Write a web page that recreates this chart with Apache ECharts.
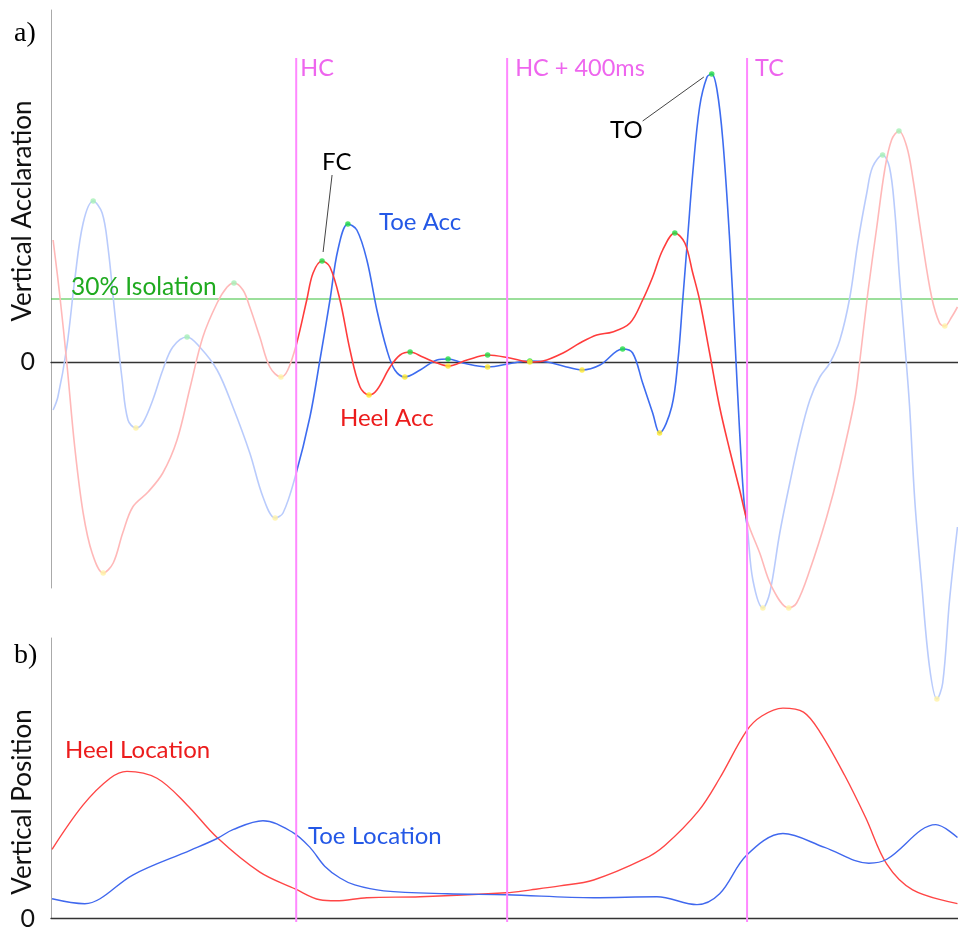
<!DOCTYPE html>
<html><head><meta charset="utf-8">
<script src="https://cdn.jsdelivr.net/npm/echarts@6/dist/echarts.min.js"></script>
<style>html,body{margin:0;padding:0;background:#fff}#c{width:958px;height:931px}</style>
</head><body><div id="c"></div>
<script>
// time in ms, accelerations / positions in arbitrary units
const toeAcc = [[4,-24],[13,-17.5],[30,7.5],[45,41],[61,69.5],[80,80.5],[97,74.5],[108,57.5],[121,24.5],[135,-9],[146,-29],[161,-33],[174,-30.5],[193,-19],[212,-4],[231,7.5],[258,12.5],[282,7.5],[315,-4],[345,-22.5],[377,-45.5],[402,-67.5],[425,-78],[440,-75.5],[463,-57.5],[491,-27.5],[510,1],[529,31],[544,56],[563,69],[580,66],[599,51],[618,26],[637,6],[652,-4],[671,-7.5],[700,-4],[732,1],[753,1.5],[781,-0.5],[828,-2.5],[876,-0.5],[908,0.5],[940,0],[971,-2],[1007,-4],[1041,-1.5],[1084,6.5],[1103,4.5],[1122,-10.5],[1141,-25.5],[1154,-35.5],[1177,-22.5],[1189,1],[1198,31],[1208,64.5],[1217,94.5],[1230,127.5],[1244,142.5],[1253,144],[1263,136],[1274,111],[1287,61],[1297,11],[1306,-35.5],[1314,-69],[1321,-84],[1331,-109],[1350,-123],[1363,-115.5],[1382,-85.5],[1401,-60.5],[1420,-37.5],[1439,-19],[1458,-7.5],[1477,-0.5],[1496,11],[1515,32.5],[1530,59.5],[1547,84.5],[1558,97.5],[1577,103.5],[1590,97.5],[1600,76],[1609,42.5],[1619,9.5],[1628,-21.5],[1638,-69],[1651,-110.5],[1666,-152.5],[1680,-168.5],[1691,-160.5],[1704,-119],[1719,-82.5]];
const heelAcc = [[4,61],[17,32.5],[30,-0.5],[45,-42.5],[61,-75.5],[78,-95.5],[99,-105.5],[118,-100.5],[136,-85.5],[155,-72.5],[184,-65],[212,-55.5],[239,-39],[264,-12.5],[288,12.5],[315,29.5],[334,37.5],[347,39.5],[364,36],[377,27.5],[396,12.5],[415,-2.5],[436,-7.5],[449,-4],[466,9.5],[485,31],[497,44.5],[514,50.5],[529,47.5],[548,31],[567,6],[586,-12.5],[603,-16.5],[618,-14],[643,-2.5],[662,3.5],[681,5],[705,2.5],[732,-0.5],[753,-2],[789,1],[828,3.5],[870,2],[908,0],[933,0.5],[971,4.5],[1003,9.5],[1035,13.5],[1065,15],[1098,19.5],[1122,31],[1141,42.5],[1160,56],[1183,64.5],[1202,59.5],[1217,44.5],[1230,31],[1249,4.5],[1268,-22.5],[1287,-44],[1306,-64],[1321,-80],[1344,-95.5],[1367,-112.5],[1399,-123],[1414,-120.5],[1439,-104],[1471,-77.5],[1496,-52.5],[1524,-19],[1534,1],[1549,34.5],[1566,67.5],[1581,96],[1594,111],[1608,115.5],[1623,107.5],[1634,92.5],[1651,62.5],[1670,32.5],[1685,19.5],[1695,18],[1708,22.5],[1719,27.5]];
const heelLoc = [[2,35],[61,57.5],[112,71],[144,74.5],[201,71],[258,57.5],[315,41],[396,23.5],[463,15],[510,9.5],[540,9],[599,10.5],[700,11],[863,13],[910,14.5],[965,16.5],[1029,19.5],[1124,30],[1164,37],[1228,54.5],[1268,71],[1319,95],[1348,102.5],[1388,106.5],[1427,104.5],[1458,94.5],[1505,72.5],[1545,51],[1585,27.5],[1634,14.5],[1719,7.5]];
const toeLoc = [[2,10],[64,7.5],[93,10],[155,22],[264,34.5],[315,40.5],[345,45],[402,49.5],[459,43.5],[491,36],[519,26.5],[548,20.5],[576,17],[631,14],[751,12.5],[864,12],[1029,10.5],[1149,11],[1225,7],[1268,12.5],[1319,32],[1388,43],[1467,36],[1551,28],[1585,30],[1678,47.5],[1719,41]];
const events = [{name:'HC', t:465},{name:'HC + 400ms', t:865},{name:'TC', t:1320}];
const eventSpan = [-280, 152];      // vertical extent of event lines (acc units)
const eventLabelLevel = 147;
const isolation = 31.5;             // 30% isolation threshold
const fcLeader = [[533,93.5],[516,55]];
const toLeader = [[1122,120.5],[1238,142.5]];
const timeRange = [0, 1720];
const accRange = [-113, 176];
const posRange = [0, 142];

const HC = events[0].t, TC = events[2].t;
const C = {
  toe:'#3d6cf0', toeFade:'#b9cbfc', heel:'#ff3c3c', heelFade:'#ffb8b8',
  green:'#22dd44', greenFade:'#a6f0b6', yellow:'#ffe82a', yellowFade:'#fff3a6',
  event:'#ff88ff', eventText:'#ee66ee'
};
function inside(t){ return t >= HC && t <= TC; }
function extrema(arr){
  const pk=[], vl=[];
  for(let i=1;i<arr.length-1;i++){
    const v=arr[i][1];
    if(v>arr[i-1][1] && v>arr[i+1][1]) pk.push(arr[i]);
    else if(v<arr[i-1][1] && v<arr[i+1][1]) vl.push(arr[i]);
  }
  return {pk, vl};
}
const eT = extrema(toeAcc), eH = extrema(heelAcc);
const peaks = eT.pk.concat(eH.pk).map(p=>({value:p, itemStyle:{color: inside(p[0])?C.green:C.greenFade}}));
const valleys = eT.vl.concat(eH.vl).map(p=>({value:p, itemStyle:{color: inside(p[0])?C.yellow:C.yellowFade}}));

const F = 'Lato, "Open Sans", sans-serif';
function txt(text, x, y, color, size, align, rot, family){
  return {type:'text', x:x, y:y, rotation: rot||0, silent:true, z:50,
    style:{text:text, fill:color, font: size+'px '+(family||F), align:align||'left', verticalAlign:'middle',
      textAlign:align||'left', textVerticalAlign:'middle'}};
}

const chart = echarts.init(document.getElementById('c'));
const eventSeries = events.map((e,i)=>({
  type:'line', xAxisIndex:0, yAxisIndex:0, clip:false, z:6, silent:true,
  data:[[e.t, eventSpan[0]],[e.t, eventSpan[1]]], showSymbol:false, symbol:'none',
  lineStyle:{color:C.event, width:2},
  markPoint:{symbol:'rect', symbolSize:0, silent:true,
    label:{show:true, position:'right', distance: i===0 ? 4 : 8, color:C.eventText, fontFamily:F, fontSize:23.5, formatter:'{b}'},
    itemStyle:{color:'transparent'},
    data:[{name:e.name, coord:[e.t, eventLabelLevel]}]},
  markLine: i===0 ? {symbol:['none','none'], silent:true, label:{show:false}, animation:false,
    lineStyle:{color:'#444', width:1, type:'solid'},
    data:[
      [{coord:fcLeader[0]},{coord:fcLeader[1]}],
      [{coord:toLeader[0]},{coord:toLeader[1]}]
    ]} : undefined
}));

chart.setOption({
  animation:false,
  backgroundColor:'#fff',
  grid:[{left:51, right:0, top:10, bottom:343}, {left:51, right:0, top:638, bottom:9}],
  xAxis:[
    {type:'value', gridIndex:0, min:timeRange[0], max:timeRange[1], axisLine:{show:true, onZero:true, lineStyle:{color:'#333', width:1.3}},
     axisTick:{show:false}, axisLabel:{show:false}, splitLine:{show:false}},
    {type:'value', gridIndex:1, min:timeRange[0], max:timeRange[1], axisLine:{show:true, lineStyle:{color:'#333', width:1.3}},
     axisTick:{show:false}, axisLabel:{show:false}, splitLine:{show:false}}
  ],
  yAxis:[
    {type:'value', gridIndex:0, min:accRange[0], max:accRange[1], axisLine:{show:true, lineStyle:{color:'#aaa', width:1}},
     axisTick:{show:false}, splitLine:{show:false},
     axisLabel:{show:true, customValues:[0], margin:16, color:'#111', fontFamily:F, fontSize:25}},
    {type:'value', gridIndex:1, min:posRange[0], max:posRange[1], axisLine:{show:true, lineStyle:{color:'#aaa', width:1}},
     axisTick:{show:false}, splitLine:{show:false},
     axisLabel:{show:true, customValues:[0], margin:16, color:'#111', fontFamily:F, fontSize:25}}
  ],
  visualMap:[
    {type:'piecewise', show:false, seriesIndex:0, dimension:0,
     pieces:[{lt:HC, color:C.toeFade},{gte:HC, lte:TC, color:C.toe},{gt:TC, color:C.toeFade}]},
    {type:'piecewise', show:false, seriesIndex:1, dimension:0,
     pieces:[{lt:HC, color:C.heelFade},{gte:HC, lte:TC, color:C.heel},{gt:TC, color:C.heelFade}]}
  ],
  series:[
    {name:'Toe Acc', type:'line', xAxisIndex:0, yAxisIndex:0, data:toeAcc, smooth:0.35, showSymbol:false, clip:false, z:3,
     lineStyle:{width:1.6}},
    {name:'Heel Acc', type:'line', xAxisIndex:0, yAxisIndex:0, data:heelAcc, smooth:0.35, showSymbol:false, clip:false, z:3,
     lineStyle:{width:1.6}},
    {name:'peaks', type:'scatter', xAxisIndex:0, yAxisIndex:0, data:peaks, symbolSize:5.5, clip:false, z:8},
    {name:'valleys', type:'scatter', xAxisIndex:0, yAxisIndex:0, data:valleys, symbolSize:5.5, clip:false, z:8},
    {name:'Heel Location', type:'line', xAxisIndex:1, yAxisIndex:1, data:heelLoc, smooth:0.35, showSymbol:false, z:3,
     lineStyle:{color:'#ff4646', width:1.4}},
    {name:'Toe Location', type:'line', xAxisIndex:1, yAxisIndex:1, data:toeLoc, smooth:0.35, showSymbol:false, z:3,
     lineStyle:{color:'#4068ee', width:1.4}},
    {name:'30% Isolation', type:'line', xAxisIndex:0, yAxisIndex:0, silent:true, z:2, showSymbol:false, symbol:'none',
     data:[[timeRange[0], isolation],[timeRange[1], isolation]],
     lineStyle:{color:'#38bf38', width:1.1}}
  ].concat(eventSeries),
  graphic:[
    txt('a)', 14, 34, '#000', 28, 'left', 0, '"Liberation Serif", serif'),
    txt('b)', 14, 656, '#000', 28, 'left', 0, '"Liberation Serif", serif'),
    txt('Vertical Acclaration', 23, 211, '#111', 26, 'center', Math.PI/2),
    txt('Vertical Position', 23, 802, '#111', 26, 'center', Math.PI/2),
    txt('30% Isolation', 71, 287, '#1faa1f', 24.5),
    txt('Toe Acc', 379, 222, '#2458e6', 24),
    txt('Heel Acc', 340, 418, '#ec1c1c', 24),
    txt('FC', 322, 162, '#000', 24),
    txt('TO', 610, 130, '#000', 24),
    txt('Heel Location', 65, 750, '#ec1c1c', 24),
    txt('Toe Location', 308, 836, '#2458e6', 24)
  ]
});
</script></body></html>
